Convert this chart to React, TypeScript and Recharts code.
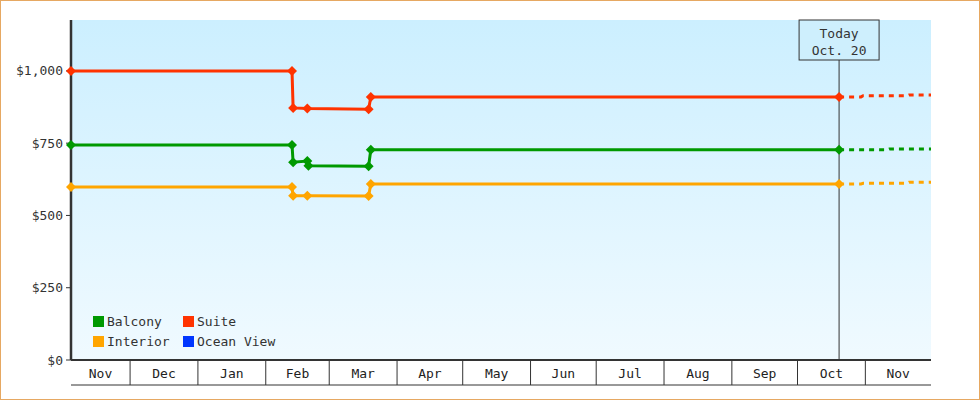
import {
  LineChart,
  Line,
  XAxis,
  YAxis,
  CartesianGrid,
  ReferenceLine,
  Legend,
} from "recharts";

const FONT = '"DejaVu Sans Mono", monospace';
const INK = "#333";

const startDate = "2023-11-04";
const endDate = "2024-12-01";
const todayDate = "2024-10-20";
const todayLabel = ["Today", "Oct. 20"];

const monthStarts = [
  "2023-12-01",
  "2024-01-01",
  "2024-02-01",
  "2024-03-01",
  "2024-04-01",
  "2024-05-01",
  "2024-06-01",
  "2024-07-01",
  "2024-08-01",
  "2024-09-01",
  "2024-10-01",
  "2024-11-01",
];
const monthLabels = [
  "Nov", "Dec", "Jan", "Feb", "Mar", "Apr", "May", "Jun", "Jul", "Aug", "Sep", "Oct", "Nov",
];

const priceTicks = [0, 250, 500, 750, 1000];
const priceMax = 1176;

// [date, price]
const balconyPrices: [string, number][] = [
  ["2023-11-04", 744],
  ["2024-02-13", 744],
  ["2024-02-13T12", 684],
  ["2024-02-20", 688],
  ["2024-02-20T12", 672],
  ["2024-03-19", 670],
  ["2024-03-20", 727],
  ["2024-10-20", 727],
];
const suitePrices: [string, number][] = [
  ["2023-11-04", 1000],
  ["2024-02-13", 1000],
  ["2024-02-13T12", 872],
  ["2024-02-20", 870],
  ["2024-03-19", 867],
  ["2024-03-20", 910],
  ["2024-10-20", 910],
];
const interiorPrices: [string, number][] = [
  ["2023-11-04", 598],
  ["2024-02-13", 598],
  ["2024-02-13T12", 568],
  ["2024-02-20", 568],
  ["2024-03-19", 567],
  ["2024-03-20", 609],
  ["2024-10-20", 609],
];

const balconyForecast: [string, number][] = [
  ["2024-10-20", 727],
  ["2024-11-11", 727],
  ["2024-11-12", 730],
  ["2024-12-01", 730],
];
const suiteForecast: [string, number][] = [
  ["2024-10-20", 910],
  ["2024-10-30", 910],
  ["2024-10-31", 914],
  ["2024-11-20", 914],
  ["2024-11-21", 917],
  ["2024-12-01", 917],
];
const interiorForecast: [string, number][] = [
  ["2024-10-20", 609],
  ["2024-10-30", 609],
  ["2024-10-31", 611],
  ["2024-11-20", 611],
  ["2024-11-21", 615],
  ["2024-12-01", 615],
];

const legendOrder = ["Balcony", "Suite", "Interior", "Ocean View"];
const COLORS: Record<string, string> = {
  Balcony: "#009900",
  Suite: "#ff3300",
  Interior: "#ffa500",
  "Ocean View": "#0036ff",
};

const toTime = (d: string) =>
  new Date(d.length > 10 ? d + ":00:00Z" : d + "T00:00:00Z").getTime();

const toRows = (pts: [string, number][]) =>
  pts.map(([d, v]) => ({ t: toTime(d), price: v }));

const startT = toTime(startDate);
const endT = toTime(endDate);
const todayT = toTime(todayDate);
const monthTimes = monthStarts.map(toTime);
const cellEdges = [startT, ...monthTimes, endT];
const cellMids = monthLabels.map((_, i) => (cellEdges[i] + cellEdges[i + 1]) / 2);

const diamond = (color: string) => (props: any) => {
  const { cx, cy, index } = props;
  if (cx == null || cy == null) return <g key={index} />;
  const r = 5;
  return (
    <polygon
      key={index}
      points={`${cx},${cy - r} ${cx + r},${cy} ${cx},${cy + r} ${cx - r},${cy}`}
      fill={color}
    />
  );
};

// month name, centred in its cell just under the x axis line
function MonthTick(props: any) {
  const { x, y, payload, index } = props;
  let i = cellMids.indexOf(payload?.value);
  if (i < 0) i = index;
  return (
    <text
      x={x}
      y={y + 13}
      dy="0.35em"
      textAnchor="middle"
      fill="#222"
      fontSize={13}
      fontFamily={FONT}
    >
      {monthLabels[i]}
    </text>
  );
}

// cell separator, drawn upward from the bottom rule
function SepTick(props: any) {
  const { x, y } = props;
  return <line x1={x} y1={y - 25} x2={x} y2={y} stroke={INK} />;
}

function TodayLabel(props: any) {
  const { x, y } = props.viewBox;
  return (
    <g>
      <rect x={x - 40} y={y} width={80} height={40} fill="#ceeffd" stroke={INK} />
      <text x={x} y={y + 13} dy="0.35em" textAnchor="middle" fill={INK} fontSize={13} fontFamily={FONT}>
        {todayLabel[0]}
      </text>
      <text x={x} y={y + 30} dy="0.35em" textAnchor="middle" fill={INK} fontSize={13} fontFamily={FONT}>
        {todayLabel[1]}
      </text>
    </g>
  );
}

function LegendGrid() {
  return (
    <div
      style={{
        display: "grid",
        gridTemplateColumns: "90px auto",
        gridAutoRows: "20px",
        fontFamily: FONT,
        fontSize: 13,
        color: INK,
      }}
    >
      {legendOrder.map((name) => (
        <div key={name} style={{ display: "flex", alignItems: "center", whiteSpace: "nowrap" }}>
          <span
            style={{
              display: "inline-block",
              width: 11,
              height: 11,
              background: COLORS[name],
              marginRight: 3,
            }}
          />
          {name}
        </div>
      ))}
    </div>
  );
}

export default function App() {
  return (
    <div
      style={{
        position: "absolute",
        left: 0,
        top: 0,
        width: 980,
        height: 400,
        border: "1px solid #e6a862",
        boxSizing: "border-box",
        background: "#fff",
      }}
    >
      <LineChart width={978} height={398} margin={{ top: 19, right: 48, bottom: 13, left: 0 }}>
        <defs>
          <linearGradient id="plotBg" x1="0" y1="0" x2="0" y2="1">
            <stop offset="0%" stopColor="#ccefff" />
            <stop offset="100%" stopColor="#f0faff" />
          </linearGradient>
        </defs>
        <CartesianGrid horizontal={false} vertical={false} fill="url(#plotBg)" fillOpacity={1} />
        <XAxis
          xAxisId="sep"
          type="number"
          dataKey="t"
          domain={[startT, endT]}
          ticks={monthTimes}
          interval={0}
          height={1}
          tickSize={0}
          tickMargin={0}
          tickLine={false}
          tick={SepTick}
          axisLine={{ stroke: INK }}
        />
        <XAxis
          xAxisId="lbl"
          type="number"
          dataKey="t"
          domain={[startT, endT]}
          ticks={cellMids}
          interval={0}
          height={25}
          tickSize={0}
          tickMargin={0}
          tickLine={false}
          axisLine={{ stroke: INK, strokeWidth: 2 }}
          tick={MonthTick}
        />
        <YAxis
          width={70}
          type="number"
          domain={[0, priceMax]}
          ticks={priceTicks}
          interval={0}
          tickFormatter={(v: number) => "$" + v.toLocaleString("en-US")}
          tickSize={5}
          tickMargin={3}
          axisLine={{ stroke: INK, strokeWidth: 2.5 }}
          tickLine={{ stroke: INK }}
          tick={{ fill: INK, fontSize: 13, fontFamily: FONT }}
        />
        <ReferenceLine xAxisId="sep" x={todayT} stroke={INK} strokeWidth={1} label={TodayLabel} />
        <Line
          xAxisId="lbl"
          data={toRows(interiorForecast)}
          dataKey="price"
          name="Interior forecast"
          legendType="none"
          stroke={COLORS.Interior}
          strokeWidth={3}
          strokeDasharray="5 5"
          dot={false}
          activeDot={false}
          isAnimationActive={false}
        />
        <Line
          xAxisId="lbl"
          data={toRows(balconyForecast)}
          dataKey="price"
          name="Balcony forecast"
          legendType="none"
          stroke={COLORS.Balcony}
          strokeWidth={3}
          strokeDasharray="5 5"
          dot={false}
          activeDot={false}
          isAnimationActive={false}
        />
        <Line
          xAxisId="lbl"
          data={toRows(suiteForecast)}
          dataKey="price"
          name="Suite forecast"
          legendType="none"
          stroke={COLORS.Suite}
          strokeWidth={3}
          strokeDasharray="5 5"
          dot={false}
          activeDot={false}
          isAnimationActive={false}
        />
        <Line
          xAxisId="sep"
          data={toRows(interiorPrices)}
          dataKey="price"
          name="Interior"
          stroke={COLORS.Interior}
          strokeWidth={3}
          dot={diamond(COLORS.Interior)}
          activeDot={false}
          isAnimationActive={false}
        />
        <Line
          xAxisId="sep"
          data={toRows(balconyPrices)}
          dataKey="price"
          name="Balcony"
          stroke={COLORS.Balcony}
          strokeWidth={3}
          dot={diamond(COLORS.Balcony)}
          activeDot={false}
          isAnimationActive={false}
        />
        <Line
          xAxisId="sep"
          data={toRows(suitePrices)}
          dataKey="price"
          name="Suite"
          stroke={COLORS.Suite}
          strokeWidth={3}
          dot={diamond(COLORS.Suite)}
          activeDot={false}
          isAnimationActive={false}
        />
        <Legend
          layout="vertical"
          align="center"
          verticalAlign="middle"
          wrapperStyle={{ left: 92, top: 310, width: 220, height: 40 }}
          content={() => <LegendGrid />}
        />
      </LineChart>
    </div>
  );
}
